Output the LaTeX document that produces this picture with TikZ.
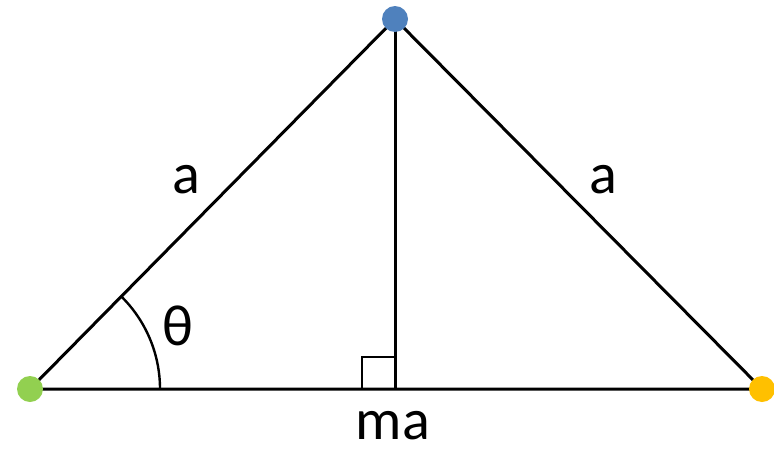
\documentclass[tikz,border=0pt]{standalone}
\usepackage{fontspec}
\setmainfont{Carlito}
\usetikzlibrary{calc}
\begin{document}
\begin{tikzpicture}[x=1pt,y=-1pt,
  edge/.style={line width=3pt,black},
  thin edge/.style={line width=2.4pt,black},
  dot/.style={circle,inner sep=0pt,minimum size=26pt},
  lbl/.style={inner sep=0pt,font=\fontsize{58}{60}\selectfont}]
\useasboundingbox (0,0) rectangle (774,450);
\coordinate (G) at (30,389);
\coordinate (B) at (395,19);
\coordinate (O) at (762,389);
\coordinate (F) at (395,389);
\draw[edge] (G) -- (B) -- (O) -- cycle;
\draw[edge] (B) -- (F);
\draw[thin edge] (362,389) |- (395,357);
\draw[thin edge] ($(G)+(130,0)$) arc[start angle=0,end angle=45.5,radius=130pt];
\node[dot,fill={rgb,255:red,146;green,208;blue,80}] (g) at (G) {};
\node[dot,fill={rgb,255:red,79;green,129;blue,189}] (b) at (B) {};
\node[dot,fill={rgb,255:red,255;green,192;blue,0}] (o) at (O) {};
\node[lbl] (la) at (186,180) {a};
\node[lbl] (ra) at (603,180) {a};
\node[lbl] (th) at (178,326) {θ};
\node[lbl] (ma) at (393,426) {ma};
\end{tikzpicture}
\end{document}
